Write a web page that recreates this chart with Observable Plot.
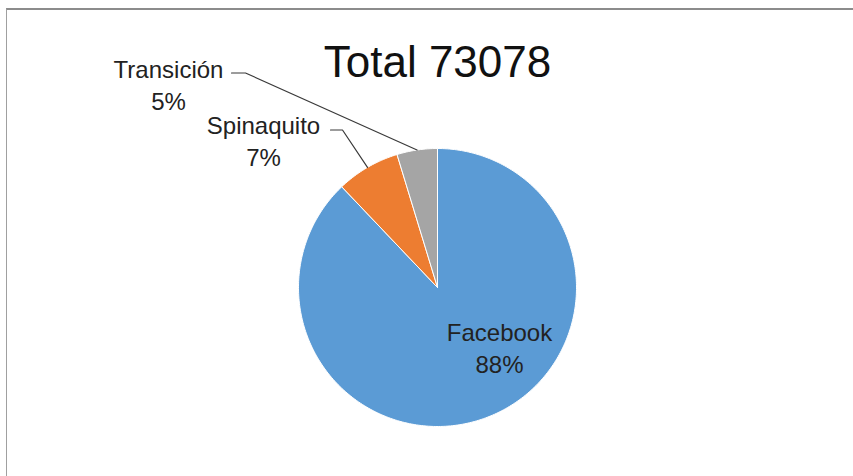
<!DOCTYPE html>
<html><head><meta charset="utf-8">
<script src="https://cdn.jsdelivr.net/npm/d3@7"></script>
<script src="https://cdn.jsdelivr.net/npm/@observablehq/plot@0.6"></script>
<style>
html,body{margin:0;padding:0;background:#fff;}
#wrap{position:relative;width:853px;height:476px;overflow:hidden;}
#frame{position:absolute;left:6px;top:8px;right:-10px;bottom:-10px;border-left:1px solid #a0a0a0;border-top:2px solid #8c8c8c;}
#wrap svg{position:absolute;left:0;top:0;}
</style></head><body><div id="wrap"><div id="frame"></div></div>
<script>
// ---- data ----
const categories = ["Facebook", "Spinaquito", "Transición"];
const shares = [87.9, 7.4, 4.7];           // percent of total
const colors = ["#5B9BD5", "#ED7D31", "#A5A5A5"];
const total = 73078;
const titleText = "Total " + total;

// ---- layout ----
const W = 853, H = 476;
const cx = 437, cy = 287, R = 139;
const labelPos = [[499, 346], [263, 139], [168, 83]];
const leaderStart = [null, [330, 129.5], [231, 72.5]];
const leaderElbow = [null, [342, 129.5], [245, 72.5]];
const titlePos = [437, 62];

// ---- geometry from data ----
const pt = a => ({x: cx + R * Math.sin(a), y: cy - R * Math.cos(a)});
const slicePts = [];
const leaderPts = [];
const labels = [];
let acc = 0;
categories.forEach((name, i) => {
  const a0 = acc / 100 * 2 * Math.PI;
  acc += shares[i];
  const a1 = acc / 100 * 2 * Math.PI;
  const n = Math.max(2, Math.ceil((a1 - a0) / (Math.PI / 180)));
  slicePts.push({name, x: cx, y: cy});
  for (let k = 0; k <= n; k++) {
    const p = pt(a0 + (a1 - a0) * k / n);
    slicePts.push({name, x: p.x, y: p.y});
  }
  slicePts.push({name, x: cx, y: cy});
  if (leaderStart[i]) {
    const m = pt((a0 + a1) / 2);
    leaderPts.push({name, x: leaderStart[i][0], y: leaderStart[i][1]});
    leaderPts.push({name, x: leaderElbow[i][0], y: leaderElbow[i][1]});
    leaderPts.push({name, x: m.x, y: m.y});
  }
  labels.push({name, x: labelPos[i][0], y: labelPos[i][1],
    text: name + "\n" + Math.round(shares[i]) + "%"});
});

const plot = Plot.plot({
  width: W, height: H, margin: 0,
  x: {domain: [0, W], range: [0, W], axis: null},
  y: {domain: [0, H], range: [0, H], axis: null},
  color: {domain: categories, range: colors},
  style: {fontFamily: "'Liberation Sans', Arial, sans-serif", background: "transparent"},
  marks: [
    Plot.line(slicePts, {x: "x", y: "y", z: "name", fill: "name", stroke: "white", strokeWidth: 1, strokeLinejoin: "round", curve: "linear"}),
    Plot.line(leaderPts, {x: "x", y: "y", z: "name", stroke: "#3a3a3a", strokeWidth: 1.2}),
    Plot.text(labels, {x: "x", y: "y", text: "text", fontSize: 24, lineHeight: 1.33, fill: "#222"}),
    Plot.text([titleText], {x: () => titlePos[0], y: () => titlePos[1], text: d => d, fontSize: 44, fill: "#111"})
  ]
});
document.getElementById("wrap").appendChild(plot);
</script></body></html>
